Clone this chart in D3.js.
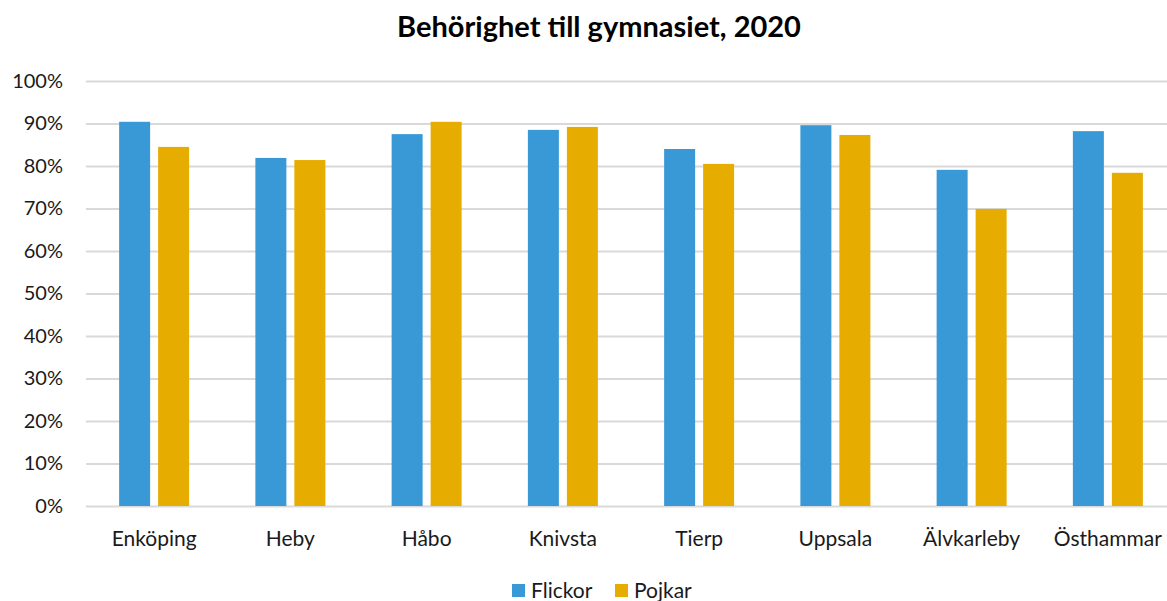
<!DOCTYPE html>
<html><head><meta charset="utf-8">
<script src="https://cdn.jsdelivr.net/npm/d3@7"></script>
<style>body{margin:0;background:#fff}svg{display:block;font-family:Lato,"Open Sans",sans-serif}</style>
</head><body><svg id="c" width="1167" height="601"></svg>
<script>
const categories = ["Enköping","Heby","Håbo","Knivsta","Tierp","Uppsala","Älvkarleby","Östhammar"];
const seriesNames = ["Flickor","Pojkar"];
const flickor = [90.4, 81.9, 87.5, 88.5, 84.0, 89.6, 79.1, 88.2];
const pojkar  = [84.5, 81.4, 90.4, 89.2, 80.5, 87.3, 69.9, 78.4];
const yTicks = [0,10,20,30,40,50,60,70,80,90,100];
const colors = ["#3899d6","#e6ac00"];
const title = "Behörighet till gymnasiet, 2020";

const FONT = "Lato, 'Open Sans', sans-serif";
const svg = d3.select("#c");
const pLeft = 86, pRight = 1176, pTop = 81, pBottom = 506;
const x = d3.scaleBand().domain(categories).range([pLeft,pRight]).paddingInner(0).paddingOuter(0);
const y = d3.scaleLinear().domain([0,100]).range([pBottom,pTop]);
const bw = 31, gap = 8;

svg.append("text").attr("x",599).attr("y",37).attr("text-anchor","middle")
  .attr("font-family",FONT).attr("font-size",29).attr("font-weight","bold").attr("fill","#000").text(title);

const yAxis = d3.axisLeft(y).tickValues(yTicks).tickFormat(d=>d+"%").tickSize(-(pRight-pLeft)).tickPadding(14);
const gy = svg.append("g").attr("transform",`translate(${pLeft},0)`).call(yAxis)
  .attr("font-family",FONT);
gy.select(".domain").remove();
gy.selectAll(".tick line").attr("stroke","#d9d9d9").attr("stroke-width",2);
gy.selectAll(".tick text").attr("font-size",20).attr("fill","#1a1a1a").attr("x",-23);

const series = [flickor,pojkar];
series.forEach((vals,si)=>{
  svg.append("g").selectAll("rect").data(categories).join("rect")
    .attr("x",d=>x(d)+x.bandwidth()/2 - bw - gap/2 + si*(bw+gap))
    .attr("y",(d,i)=>y(vals[i]))
    .attr("width",bw)
    .attr("height",(d,i)=>pBottom - y(vals[i]))
    .attr("fill",colors[si]);
});

const xAxis = d3.axisBottom(x).tickSize(0).tickPadding(25);
const gx = svg.append("g").attr("transform",`translate(0,${pBottom})`).call(xAxis)
  .attr("font-family",FONT);
gx.select(".domain").remove();
gx.selectAll(".tick text").attr("font-size",21).attr("fill","#1a1a1a");

const legX = [512, 615];
seriesNames.forEach((n,i)=>{
  svg.append("rect").attr("x",legX[i]).attr("y",584).attr("width",13).attr("height",13).attr("fill",colors[i]);
  svg.append("text").attr("x",legX[i]+19).attr("y",598).attr("font-family",FONT).attr("font-size",21).attr("fill","#1a1a1a").text(n);
});
</script></body></html>
